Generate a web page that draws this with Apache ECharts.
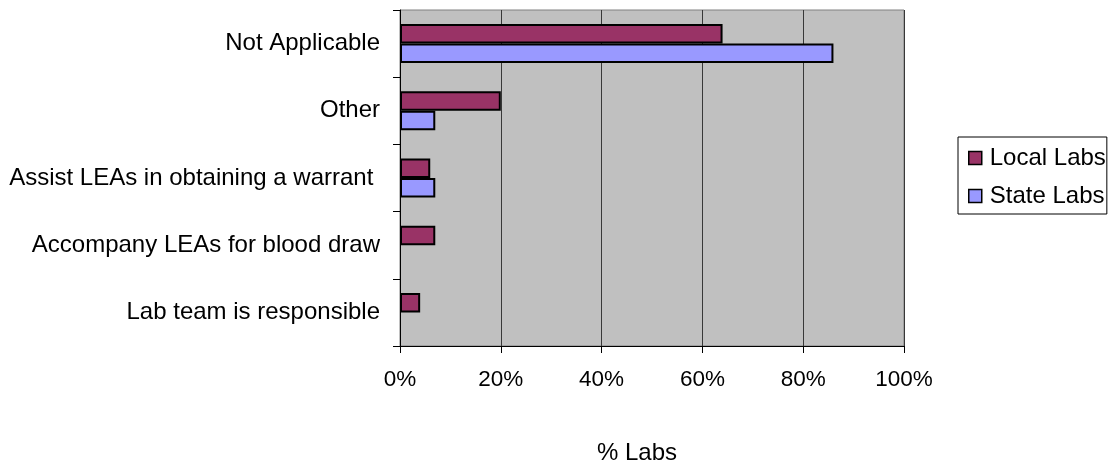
<!DOCTYPE html>
<html>
<head>
<meta charset="utf-8">
<style>
  html, body { margin: 0; padding: 0; background: #ffffff; }
  #chart { width: 1109px; height: 466px; }
</style>
<script src="https://cdn.jsdelivr.net/npm/echarts@6/dist/echarts.min.js"></script>
</head>
<body>
<div id="chart"></div>
<script>
// Categories listed top to bottom
const categories = [
  'Not Applicable',
  'Other',
  'Assist LEAs in obtaining a warrant ',
  'Accompany LEAs for blood draw',
  'Lab team is responsible'
];
// Share of labs (%) per category
const localLabs = [64, 20, 6, 7, 4];
const stateLabs = [86, 7, 7, null, null];
const xTicks = [0, 20, 40, 60, 80, 100];
const axisTitle = '% Labs';

const FONT = '"Liberation Sans", Arial, sans-serif';
const FS = 24;
const TICK_FS = 22.5;

const chart = echarts.init(document.getElementById('chart'), null, { renderer: 'canvas' });

chart.setOption({
  animation: false,
  backgroundColor: '#ffffff',
  textStyle: { fontFamily: FONT, color: '#000' },
  grid: {
    left: 400, top: 10, width: 504, height: 336,
    show: true, backgroundColor: '#C0C0C0', borderColor: '#808080', borderWidth: 1,
    containLabel: false
  },
  xAxis: {
    type: 'value',
    min: xTicks[0],
    max: xTicks[xTicks.length - 1],
    interval: xTicks[1] - xTicks[0],
    axisLine: { show: true, lineStyle: { color: '#000', width: 1 } },
    axisTick: { show: true, length: 7, lineStyle: { color: '#000' } },
    axisLabel: { formatter: '{value}%', fontSize: TICK_FS, fontFamily: FONT, color: '#000', margin: 22 },
    splitLine: { show: true, lineStyle: { color: '#383838', width: 1 } }
  },
  yAxis: {
    type: 'category',
    data: categories,
    inverse: true,
    axisLine: { show: true, lineStyle: { color: '#000', width: 1 } },
    axisTick: { show: true, length: 7, alignWithLabel: false, lineStyle: { color: '#000' } },
    axisLabel: { fontSize: FS, fontFamily: FONT, color: '#000', margin: 20 },
    splitLine: { show: false }
  },
  legend: {
    orient: 'vertical',
    left: 958, top: 137,
    padding: [9, 1, 6, 10],
    borderColor: '#000', borderWidth: 1,
    backgroundColor: '#ffffff',
    itemWidth: 13, itemHeight: 13, itemGap: 14,
    icon: 'rect',
    textStyle: { fontSize: FS, fontFamily: FONT, color: '#000', padding: [0, 0, 0, 3] },
    itemStyle: { borderColor: '#000', borderWidth: 1.5 },
    data: ['Local Labs', 'State Labs']
  },
  graphic: [{
    type: 'text',
    x: 637, y: 453,
    style: {
      text: axisTitle, font: FS + 'px ' + FONT, fill: '#000',
      textAlign: 'center', textVerticalAlign: 'middle'
    }
  }],
  series: [
    {
      name: 'Local Labs', type: 'bar', data: localLabs,
      barWidth: 19.5, barGap: '0%',
      itemStyle: { color: '#993366', borderColor: '#000', borderWidth: 2 }
    },
    {
      name: 'State Labs', type: 'bar', data: stateLabs,
      barWidth: 19.5, barGap: '0%',
      itemStyle: { color: '#9999FF', borderColor: '#000', borderWidth: 2 }
    }
  ]
});
</script>
</body>
</html>
